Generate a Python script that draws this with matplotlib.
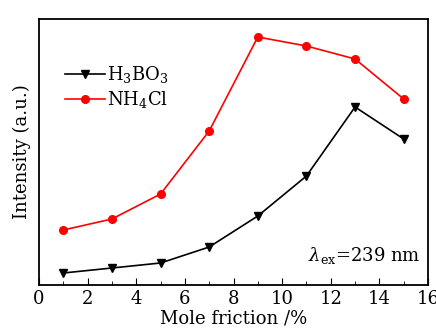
import matplotlib
matplotlib.use('Agg')
import matplotlib.pyplot as plt
from matplotlib.ticker import MultipleLocator

plt.rcParams['font.family'] = 'DejaVu Serif'
plt.rcParams['mathtext.fontset'] = 'dejavuserif'

x = [1, 3, 5, 7, 9, 11, 13, 15]
h3bo3 = [12, 17, 22, 38, 69, 109, 178, 146]
nh4cl = [55, 66, 91, 154, 248, 239, 226, 186]

fig = plt.figure(figsize=(4.36, 3.34), dpi=100)
ax = fig.add_axes([39/436, 1-285/334, 389/436, 266/334])

ax.plot(x, h3bo3, color='black', marker='v', markersize=5.5, lw=1.2, label=r'H$_3$BO$_3$')
ax.plot(x, nh4cl, color='red', marker='o', markersize=5.5, lw=1.2, label=r'NH$_4$Cl')

ax.set_xlim(0, 16)
ax.set_ylim(0, 266)
ax.xaxis.set_major_locator(MultipleLocator(2))
ax.xaxis.set_minor_locator(MultipleLocator(1))
ax.tick_params(axis='x', which='both', direction='in', labelsize=13)
ax.tick_params(axis='x', which='major', length=5)
ax.tick_params(axis='x', which='minor', length=3)
ax.set_yticks([])
for s in ax.spines.values():
    s.set_linewidth(1.3)

ax.set_xlabel('Mole friction /%', fontsize=13, labelpad=1)
ax.set_ylabel('Intensity (a.u.)', fontsize=13, labelpad=6)

ax.legend(loc='upper left', bbox_to_anchor=(0.04, 0.87), frameon=False, fontsize=13,
          handlelength=2.2, handletextpad=0.1, labelspacing=0.2, borderaxespad=0.2)
ax.text(0.98, 0.11, r'$\lambda_{\rm ex}$=239 nm', transform=ax.transAxes,
        ha='right', va='center', fontsize=13)

fig.savefig('out.png', dpi=100)
